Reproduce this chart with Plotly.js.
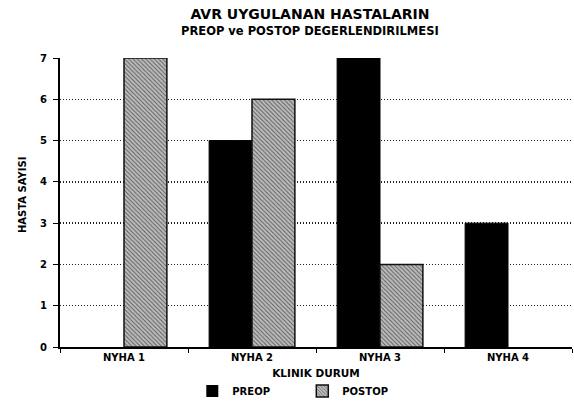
<!DOCTYPE html>
<html>
<head>
<meta charset="utf-8">
<script src="https://cdn.plot.ly/plotly-3.0.1.min.js"></script>
<style>html,body{margin:0;padding:0;background:#fff;}#chart{width:574px;height:403px;}</style>
</head>
<body>
<div id="chart"></div>
<script>
var categories = ["NYHA 1", "NYHA 2", "NYHA 3", "NYHA 4"];
var preopValues = [0, 5, 7, 3];
var postopValues = [7, 6, 2, 0];
var yTickValues = [0, 1, 2, 3, 4, 5, 6, 7];

var fontFam = "DejaVu Sans, Verdana, sans-serif";

function outlineWidths(vals, w) { return vals.map(function (v) { return v > 0 ? w : 0; }); }

var traces = [
  {
    type: "bar", name: "PREOP", x: categories, y: preopValues,
    marker: {color: "#000", line: {color: "#000", width: outlineWidths(preopValues, 1)}}
  },
  {
    type: "bar", name: "POSTOP", x: categories, y: postopValues,
    marker: {
      color: "#b0b0b0",
      line: {color: "#111", width: outlineWidths(postopValues, 1.5)},
      pattern: {shape: "\\", bgcolor: "#bcbcbc", fgcolor: "#5a5a5a", size: 3, solidity: 0.3}
    }
  }
];

var layout = {
  width: 574, height: 403,
  paper_bgcolor: "#fff", plot_bgcolor: "#fff",
  margin: {l: 60, r: 2, t: 58, b: 56, autoexpand: false},
  barmode: "group", bargap: 0.33, bargroupgap: 0,
  font: {family: fontFam, color: "#000"},
  title: {
    text: "<b>AVR UYGULANAN HASTALARIN</b>",
    font: {size: 14, family: fontFam, color: "#000"},
    x: 0.54, xref: "container", xanchor: "center", y: 1 - 14 / 403, yref: "container", yanchor: "middle"
  },
  annotations: [
    {
      text: "<b>PREOP ve POSTOP DEGERLENDIRILMESI</b>",
      font: {size: 11.5, family: fontFam, color: "#000"},
      xref: "paper", yref: "paper", x: (310 - 60) / 512, y: 1 + (58 - 31) / 289,
      xanchor: "center", yanchor: "middle", showarrow: false
    },
    {
      text: "<b>HASTA SAYISI</b>",
      font: {size: 10, family: fontFam, color: "#000"},
      textangle: -90,
      xref: "paper", yref: "paper", x: (22 - 60) / 512, y: (347 - 195) / 289,
      xanchor: "center", yanchor: "middle", showarrow: false
    }
  ],
  xaxis: {
    type: "category",
    showline: true, linecolor: "#000", linewidth: 1.5,
    ticks: "outside", ticklen: 4, tickcolor: "#000", tickson: "boundaries",
    tickfont: {size: 10, family: fontFam, color: "#000", weight: "bold"},
    title: {text: "<b>KLINIK DURUM</b>", font: {size: 10.5, family: fontFam}, standoff: 8},
    showgrid: false, zeroline: false, fixedrange: true
  },
  yaxis: {
    range: [0, 7], tickvals: yTickValues,
    showline: true, linecolor: "#000", linewidth: 2,
    ticks: "outside", ticklen: 5, tickcolor: "#000", ticklabelstandoff: 4,
    tickfont: {size: 10, family: fontFam, color: "#000", weight: "bold"},
    showgrid: true, gridcolor: "#222", griddash: "1px,2px", gridwidth: 1.5,
    zeroline: false,
    fixedrange: true
  },
  showlegend: true,
  legend: {
    orientation: "h", xref: "container", yref: "paper",
    x: 0.335, xanchor: "left", y: -(391 - 347) / 289, yanchor: "middle",
    font: {size: 10, family: fontFam, color: "#000", weight: "bold"},
    entrywidth: 65, entrywidthmode: "pixels", traceorder: "normal"
  }
};

Plotly.newPlot("chart", traces, layout, {displayModeBar: false, staticPlot: true});
</script>
</body>
</html>
